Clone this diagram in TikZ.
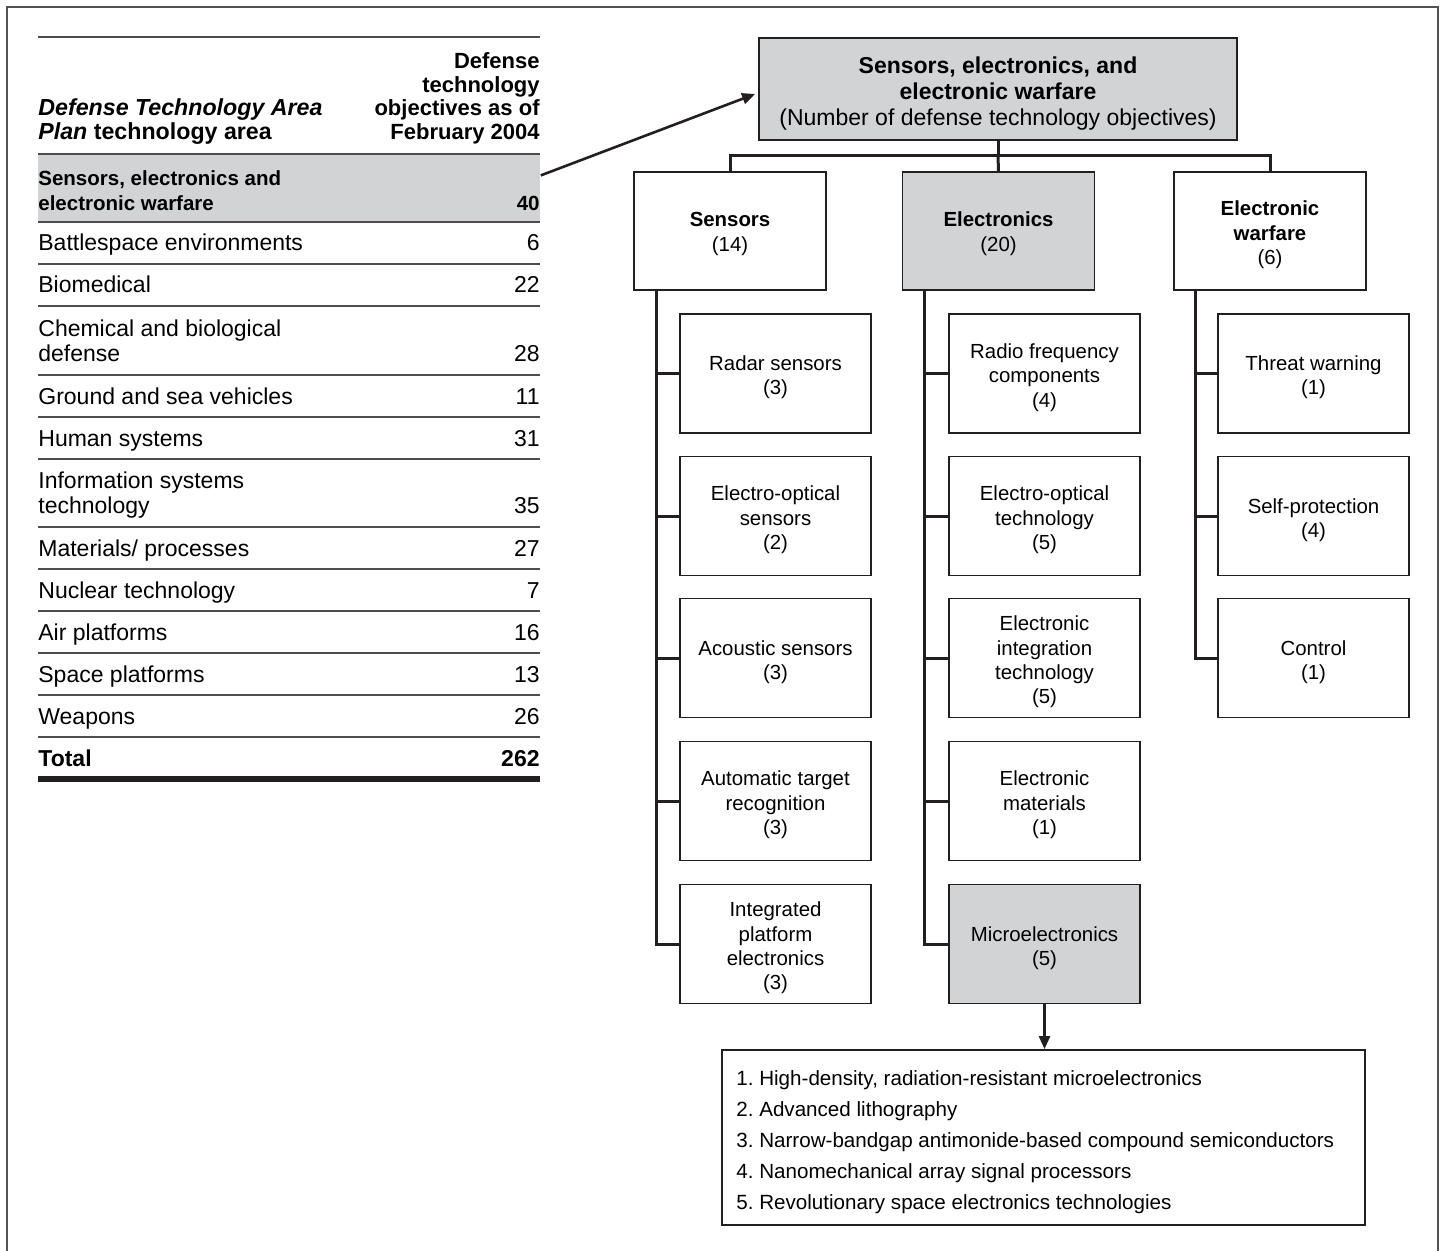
\documentclass[tikz,border=0pt]{standalone}
\usepackage{fontspec}
\setmainfont{Liberation Sans}
\usetikzlibrary{arrows.meta}
\definecolor{dtgray}{HTML}{D1D3D4}
\definecolor{ink}{HTML}{231F20}
\newcommand{\bxs}{\rule{0pt}{11.4pt}}
\newcommand{\lns}{\rule{0pt}{10.2pt}}
\newcommand{\tps}{\rule{0pt}{12.4pt}}
\begin{document}
\begin{tikzpicture}[x=0.5pt,y=-0.5pt,
  box/.style={draw=ink, line width=0.9pt, fill=white, align=center, inner sep=0pt,
    font=\fontsize{10.2}{12.2}\selectfont, minimum width=95.5pt, minimum height=59.5pt},
  hbox/.style={box, fill=dtgray},
  lone/.style={box, minimum width=96pt, minimum height=59pt},
  conn/.style={draw=ink, line width=1.5pt},
  tipped/.style={draw=ink, line width=1.3pt, -{Triangle[length=6.5pt,width=5.5pt]}},
  rulel/.style={draw=ink!80, line width=0.75pt},
  tl/.style={anchor=base west, inner sep=0pt, font=\fontsize{11.5}{12}\selectfont},
  tr/.style={anchor=base east, inner sep=0pt, font=\fontsize{11.5}{12}\selectfont},
  hd/.style={inner sep=0pt, font=\fontsize{11}{12}\selectfont\bfseries},
  hdl/.style={inner sep=0pt, anchor=base west, font=\fontsize{11.6}{12}\selectfont\bfseries},
  gr/.style={anchor=base west, inner sep=0pt, font=\fontsize{10.25}{12}\selectfont\bfseries}
]
\useasboundingbox (0,0) rectangle (1444,1251);
% frame
\draw[draw=black!68, line width=1pt] (7,1251) -- (7,7) -- (1438,7) -- (1438,1251);

% ---------- table ----------
\node[fill=dtgray, inner sep=0pt, minimum width=251pt, minimum height=34pt, anchor=north west] (grayrow) at (38,154) {};
\draw[rulel] (38,37) -- (540,37);
\draw[rulel] (38,154) -- (540,154);
\foreach \yy in {222,264,306,375,417,459,527,569,611,653,695,737} {
  \draw[rulel] (38,\yy) -- (540,\yy);
}
\draw[draw=ink, line width=2.6pt] (38,779) -- (540,779);

% header
\node[hd, anchor=base east] (h1) at (540,69) {Defense};
\node[hd, anchor=base east] (h2) at (540,92.5) {technology};
\node[hd, anchor=base east] (h3) at (540,116) {objectives as of};
\node[hd, anchor=base east] (h4) at (540,140) {February 2004};
\node[hdl] (h5) at (38,116) {\itshape Defense Technology Area};
\node[hdl] (h6) at (38,140) {\itshape Plan\/\upshape{} technology area};

% gray row
\node[gr] (g1) at (38,185.5) {Sensors, electronics and};
\node[gr] (g2) at (38,210.5) {electronic warfare};
\node[gr, anchor=base east] (g3) at (540,211) {40};

% rows
\node[tl] (r1) at (38,251) {Battlespace environments};
\node[tr] (n1) at (540,251) {6};
\node[tl] (r2) at (38,293) {Biomedical};
\node[tr] (n2) at (540,293) {22};
\node[tl] (r3a) at (38,336) {Chemical and biological};
\node[tl] (r3b) at (38,361) {defense};
\node[tr] (n3) at (540,361) {28};
\node[tl] (r4) at (38,404) {Ground and sea vehicles};
\node[tr] (n4) at (540,404) {11};
\node[tl] (r5) at (38,446) {Human systems};
\node[tr] (n5) at (540,446) {31};
\node[tl] (r6a) at (38,488) {Information systems};
\node[tl] (r6b) at (38,513) {technology};
\node[tr] (n6) at (540,513) {35};
\node[tl] (r7) at (38,556) {Materials/ processes};
\node[tr] (n7) at (540,556) {27};
\node[tl] (r8) at (38,598) {Nuclear technology};
\node[tr] (n8) at (540,598) {7};
\node[tl] (r9) at (38,640) {Air platforms};
\node[tr] (n9) at (540,640) {16};
\node[tl] (r10) at (38,682) {Space platforms};
\node[tr] (n10) at (540,682) {13};
\node[tl] (r11) at (38,724) {Weapons};
\node[tr] (n11) at (540,724) {26};
\node[tl, font=\fontsize{11.5}{12}\selectfont\bfseries] (r12) at (38,766) {Total};
\node[tr, font=\fontsize{11.5}{12}\selectfont\bfseries] (n12) at (540,766) {262};

% ---------- chart ----------
\node[hbox, minimum width=239pt, minimum height=51pt, font=\fontsize{11.5}{13}\selectfont] (top) at (998,89)
  {\tps\textbf{Sensors, electronics, and}\\\textbf{electronic warfare}\\(Number of defense technology objectives)};

\node[lone] (sens) at (730,231) {\lns\textbf{Sensors}\\(14)};
\node[lone, fill=dtgray] (elec) at (998.5,231) {\lns\textbf{Electronics}\\(20)};
\node[lone] (ew) at (1270,231) {\bxs\textbf{Electronic}\\\textbf{warfare}\\(6)};

\coordinate (bar) at (998,156);
\draw[conn] (top.south) -- (top.south |- bar);
\draw[conn] (sens.north) |- (ew.north |- bar) -- (ew.north);
\draw[conn] (top.south |- bar) -- (elec.north);

% sensors children
\node[box] (s1) at (775.5,373.5) {\bxs Radar sensors\\(3)};
\node[box] (s2) at (775.5,516) {\bxs Electro-optical\\sensors\\(2)};
\node[box] (s3) at (775.5,658) {\bxs Acoustic sensors\\(3)};
\node[box] (s4) at (775.5,801) {\bxs Automatic target\\recognition\\(3)};
\node[box] (s5) at (775.5,944) {\bxs Integrated\\platform\\electronics\\(3)};

% electronics children
\node[box] (e1) at (1044.5,373.5) {\bxs Radio frequency\\components\\(4)};
\node[box] (e2) at (1044.5,516) {\bxs Electro-optical\\technology\\(5)};
\node[box] (e3) at (1044.5,658) {\bxs Electronic\\integration\\technology\\(5)};
\node[box] (e4) at (1044.5,801) {\bxs Electronic\\materials\\(1)};
\node[hbox] (e5) at (1044.5,944) {\bxs Microelectronics\\(5)};

% EW children
\node[box] (w1) at (1313.5,373.5) {\bxs Threat warning\\(1)};
\node[box] (w2) at (1313.5,516) {\bxs Self-protection\\(4)};
\node[box] (w3) at (1313.5,658) {\bxs Control\\(1)};

% spines
\coordinate (ss) at ([xshift=11.5pt]sens.south west);
\coordinate (es) at ([xshift=11.5pt]elec.south west);
\coordinate (ws) at ([xshift=11pt]ew.south west);
\draw[conn] (ss) |- (s5.west);
\foreach \c in {s1,s2,s3,s4} { \draw[conn] (ss |- \c.west) -- (\c.west); }
\draw[conn] (es) |- (e5.west);
\foreach \c in {e1,e2,e3,e4} { \draw[conn] (es |- \c.west) -- (\c.west); }
\draw[conn] (ws) |- (w3.west);
\foreach \c in {w1,w2} { \draw[conn] (ws |- \c.west) -- (\c.west); }

% list box
\node[draw=ink, line width=0.9pt, minimum width=321.5pt, minimum height=87.5pt, inner sep=0pt] (list) at (1043.5,1137.5) {};
\begin{scope}[every node/.style={anchor=base west, inner sep=0pt, font=\fontsize{10.3}{12}\selectfont\frenchspacing}]
\node (l1) at (736,1085) {1. High-density, radiation-resistant microelectronics};
\node (l2) at (736,1116) {2. Advanced lithography};
\node (l3) at (736,1147) {3. Narrow-bandgap antimonide-based compound semiconductors};
\node (l4) at (736,1178) {4. Nanomechanical array signal processors};
\node (l5) at (736,1209) {5. Revolutionary space electronics technologies};
\end{scope}

% arrows
\draw[tipped] ([yshift=6.5pt]grayrow.east) -- ([xshift=-1.5pt,yshift=-2.5pt]top.west);
\draw[tipped] (e5.south) -- (list.north -| e5.south);
\end{tikzpicture}
\end{document}
